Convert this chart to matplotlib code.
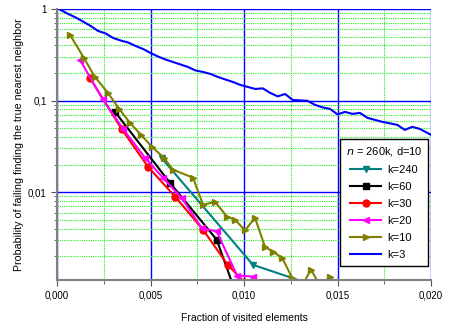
import matplotlib
matplotlib.use("Agg")
import matplotlib.pyplot as plt
from matplotlib.ticker import FixedLocator, LogLocator, FuncFormatter, NullFormatter

plt.rcParams['font.family'] = ['Liberation Sans', 'DejaVu Sans']

# k=240
x_k240 = [0.0056, 0.01048, 0.0135]
y_k240 = [0.0235, 0.00161, 0.0010]

# k=60
x_k60 = [0.0031, 0.00604, 0.00854, 0.0094]
y_k60 = [0.0753, 0.01266, 0.00303, 0.00098]

# k=30
x_k30 = [0.00176, 0.00346, 0.00487, 0.00631, 0.00781, 0.00913, 0.0100]
y_k30 = [0.177, 0.0488, 0.0189, 0.00897, 0.00389, 0.00161, 0.00105]

# k=20
x_k20 = [0.00123, 0.00244, 0.00353, 0.00471, 0.00567, 0.00667, 0.00774,
         0.00854, 0.00963, 0.01048]
y_k20 = [0.278, 0.1035, 0.0491, 0.0237, 0.01436, 0.00863, 0.00406,
         0.00373, 0.00123, 0.00120]

# k=10
x_k10 = [0.00070, 0.00144, 0.00203, 0.00273, 0.00332, 0.00390, 0.00449,
         0.00508, 0.00572, 0.00620, 0.00727, 0.00781, 0.00845, 0.00909,
         0.00952, 0.01005, 0.01059, 0.01112, 0.01155, 0.01203, 0.01257,
         0.0131, 0.01358, 0.0141, 0.0146]
y_k10 = [0.520, 0.292, 0.181, 0.121, 0.0812, 0.0572, 0.0423,
         0.0313, 0.0237, 0.0176, 0.0144, 0.00729, 0.00785, 0.00542,
         0.00501, 0.00383, 0.00525, 0.00254, 0.00224, 0.00193, 0.00117,
         0.00095, 0.00143, 0.00093, 0.00119]

# k=3
x_k3 = [0.0002, 0.0006, 0.0010, 0.0014, 0.0018, 0.0022, 0.0026, 0.0030,
        0.0034, 0.0038, 0.0042, 0.0046, 0.0050, 0.0054, 0.0058, 0.0062,
        0.0066, 0.0070, 0.0074, 0.0078, 0.0082, 0.0086, 0.0090, 0.0094,
        0.0098, 0.0102, 0.0106, 0.0110, 0.0114, 0.0118, 0.0122, 0.0126,
        0.0130, 0.0134, 0.0138, 0.0142, 0.0146, 0.0150, 0.0154, 0.0158,
        0.0162, 0.0166, 0.0170, 0.0174, 0.0178, 0.0182, 0.0186, 0.0190,
        0.0194, 0.0198, 0.0200]
y_k3 = [0.975, 0.882, 0.808, 0.727, 0.653, 0.575, 0.541, 0.483,
        0.453, 0.431, 0.395, 0.366, 0.331, 0.303, 0.281, 0.264,
        0.248, 0.233, 0.2135, 0.2056, 0.1955, 0.1813, 0.170, 0.160,
        0.1483, 0.141, 0.134, 0.136, 0.1213, 0.1113, 0.118, 0.1017,
        0.1005, 0.0994, 0.0898, 0.0843, 0.0812, 0.0707, 0.0753, 0.0716,
        0.0734, 0.0648, 0.0616, 0.0586, 0.0564, 0.0543, 0.0479, 0.0517,
        0.0491, 0.0444, 0.0423]

x_ticks = [0.0, 0.005, 0.010, 0.015, 0.020]
x_labels = ['0,000', '0,005', '0,010', '0,015', '0,020']

fig = plt.figure(figsize=(4.5, 3.27), dpi=100)
ax = fig.add_axes([0.1267, 0.1437, 0.8311, 0.8288])

lw = 1.5
ms = 5
ax.plot(x_k240, y_k240, color='#008080', marker='v', lw=lw, ms=ms, label='k=240')
ax.plot(x_k60, y_k60, color='black', marker='s', lw=lw, ms=ms - 0.5, label='k=60')
ax.plot(x_k30, y_k30, color='red', marker='o', lw=lw, ms=ms, label='k=30')
ax.plot(x_k20, y_k20, color='#ff00ff', marker='<', lw=lw, ms=ms, label='k=20')
ax.plot(x_k10, y_k10, color='#808000', marker='>', lw=lw, ms=ms, label='k=10')
ax.plot(x_k3, y_k3, color='#0000ff', lw=lw, label='k=3')

ax.set_yscale('log')
ax.set_xlim(0, 0.020)
ax.set_ylim(0.0011, 1)

ax.xaxis.set_major_locator(FixedLocator(x_ticks))
ax.set_xticklabels(x_labels)
ax.xaxis.set_minor_locator(FixedLocator([0.0025, 0.0075, 0.0125, 0.0175]))
ax.yaxis.set_major_locator(FixedLocator([0.01, 0.1, 1]))
ax.yaxis.set_major_formatter(FuncFormatter(
    lambda v, p: {0.01: '0,01', 0.1: '0,1', 1: '1'}.get(round(v, 3), '')))
ax.yaxis.set_minor_locator(LogLocator(base=10, subs=range(2, 10)))
ax.yaxis.set_minor_formatter(NullFormatter())

ax.grid(True, which='major', color='#0000ff', lw=1.0, ls='-')
ax.grid(True, which='minor', color='#22ee22', lw=0.8, ls=(0, (1, 1)))
ax.set_axisbelow(True)

ax.tick_params(which='both', direction='out', labelsize=7, color='#555555')
ax.tick_params(which='major', length=4)
ax.tick_params(which='minor', length=2.5)
ax.tick_params(axis='x', which='minor', length=3)

for s in ['top', 'right']:
    ax.spines[s].set_visible(False)
for s in ['left', 'bottom']:
    ax.spines[s].set_color('#808080')
    ax.spines[s].set_linewidth(1.5)

ax.set_xlabel('Fraction of visited elements', fontsize=7.5, labelpad=9)
ax.set_ylabel('Probability of failing finding the true nearest neighbor',
              fontsize=7.7, labelpad=3)

leg = ax.legend(loc='upper right', bbox_to_anchor=(0.993, 0.52),
                title=r'$n$ = 260k, d=10', fontsize=8, title_fontsize=8,
                frameon=True, fancybox=False, framealpha=1, edgecolor='black',
                borderaxespad=0, handlelength=2.8, handletextpad=0.5,
                labelspacing=0.62, borderpad=0.55)
leg.get_frame().set_linewidth(1.0)

fig.savefig('out.png', dpi=100)
